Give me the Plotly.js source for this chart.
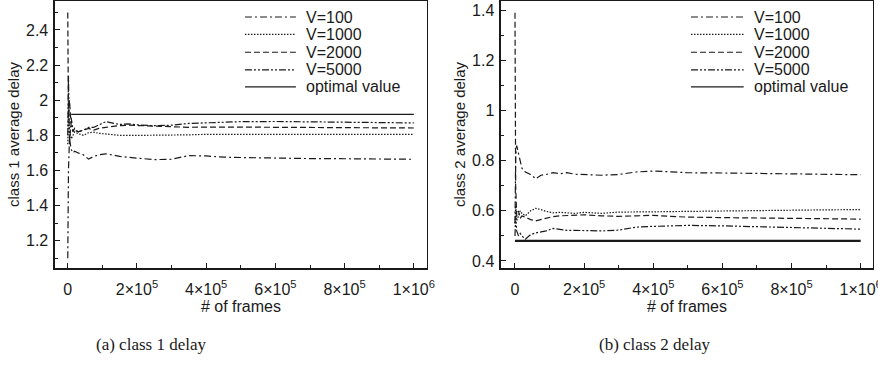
<!DOCTYPE html>
<html>
<head>
<meta charset="utf-8">
<script src="https://cdn.plot.ly/plotly-3.0.1.min.js"></script>
<style>html,body{margin:0;padding:0;background:#fff;}#chart{width:878px;height:367px;}</style>
</head>
<body>
<div id="chart"></div>
<script>
// ---- data ----
const frames = [0, 2000, 5000, 10000, 15000, 20000, 30000, 45000, 60000, 75000, 90000, 110000, 130000, 150000, 175000, 200000, 250000, 300000, 350000, 400000, 450000, 500000, 600000, 700000, 800000, 900000, 1000000];
const seriesNames = ["V=100", "V=1000", "V=2000", "V=5000", "optimal value"];

const class1_V100  = [1.1, 1.6, 1.78, 1.72, 1.70, 1.71, 1.70, 1.69, 1.665, 1.68, 1.69, 1.695, 1.688, 1.68, 1.675, 1.672, 1.662, 1.664, 1.685, 1.683, 1.676, 1.674, 1.670, 1.668, 1.667, 1.666, 1.664];
const class1_V1000 = [1.75, 1.95, 1.82, 1.78, 1.80, 1.82, 1.81, 1.80, 1.815, 1.818, 1.812, 1.806, 1.804, 1.800, 1.798, 1.800, 1.801, 1.800, 1.803, 1.806, 1.807, 1.807, 1.806, 1.806, 1.806, 1.806, 1.806];
const class1_V2000 = [2.5, 1.9, 2.0, 1.85, 1.82, 1.84, 1.82, 1.83, 1.84, 1.83, 1.84, 1.846, 1.852, 1.856, 1.858, 1.856, 1.850, 1.848, 1.846, 1.847, 1.848, 1.847, 1.846, 1.845, 1.844, 1.843, 1.842];
const class1_V5000 = [1.8, 2.14, 1.75, 1.9, 1.83, 1.83, 1.82, 1.83, 1.845, 1.845, 1.86, 1.878, 1.87, 1.862, 1.866, 1.86, 1.855, 1.858, 1.868, 1.872, 1.875, 1.878, 1.879, 1.878, 1.876, 1.873, 1.871];
const class1_optX = [10000, 1000000];
const class1_opt  = [1.92, 1.92];

const class2_V100  = [0.55, 0.82, 0.86, 0.83, 0.80, 0.77, 0.755, 0.745, 0.728, 0.742, 0.745, 0.752, 0.748, 0.752, 0.746, 0.744, 0.742, 0.745, 0.755, 0.759, 0.755, 0.752, 0.751, 0.749, 0.747, 0.745, 0.744];
const class2_V1000 = [0.55, 0.62, 0.56, 0.58, 0.60, 0.59, 0.58, 0.60, 0.61, 0.605, 0.598, 0.592, 0.594, 0.592, 0.590, 0.594, 0.590, 0.595, 0.594, 0.596, 0.597, 0.598, 0.600, 0.601, 0.603, 0.604, 0.605];
const class2_V2000 = [1.39, 0.70, 0.58, 0.60, 0.57, 0.58, 0.575, 0.565, 0.56, 0.565, 0.57, 0.577, 0.580, 0.582, 0.583, 0.584, 0.580, 0.578, 0.580, 0.582, 0.578, 0.575, 0.573, 0.571, 0.569, 0.568, 0.567];
const class2_V5000 = [0.50, 0.58, 0.52, 0.50, 0.51, 0.50, 0.487, 0.505, 0.512, 0.515, 0.52, 0.53, 0.525, 0.522, 0.522, 0.522, 0.52, 0.523, 0.535, 0.538, 0.54, 0.542, 0.54, 0.536, 0.532, 0.529, 0.527];
const class2_optX = [0, 1000000];
const class2_opt  = [0.48, 0.48];

const xTickVals = [0, 200000, 400000, 600000, 800000, 1000000];
const xTickText = ["0", "2×10<sup>5</sup>", "4×10<sup>5</sup>", "6×10<sup>5</sup>", "8×10<sup>5</sup>", "1×10<sup>6</sup>"];
const captions = ["(a) class 1 delay", "(b) class 2 delay"];
const yTitles = ["class 1 average delay", "class 2 average delay"];

// ---- styles ----
const dashes = ["7px,3px,2px,3px", "1.5px,1.5px", "6px,3px", "7px,2px,2px,2px,2px,2px", "solid"];
const ink = "#1a1a1a";
const font = "Liberation Sans, Arial, Helvetica, sans-serif";

function mk(x, y, i, xa, ya, w) {
  return {x: x, y: y, type: "scatter", mode: "lines", name: seriesNames[i],
    xaxis: xa, yaxis: ya, showlegend: false, hoverinfo: "skip",
    line: {color: ink, width: w || 1.2, dash: dashes[i]}};
}

const traces = [
  mk(frames, class1_V100, 0, "x", "y"),
  mk(frames, class1_V1000, 1, "x", "y"),
  mk(frames, class1_V2000, 2, "x", "y"),
  mk(frames, class1_V5000, 3, "x", "y"),
  mk(class1_optX, class1_opt, 4, "x", "y", 1.3),
  mk(frames, class2_V100, 0, "x2", "y2"),
  mk(frames, class2_V1000, 1, "x2", "y2"),
  mk(frames, class2_V2000, 2, "x2", "y2"),
  mk(frames, class2_V5000, 3, "x2", "y2"),
  mk(class2_optX, class2_opt, 4, "x2", "y2", 2.2)
];

function xaxis(domain, range, anchor) {
  return {domain: domain, range: range, anchor: anchor,
    tickmode: "array", tickvals: xTickVals, ticktext: xTickText,
    ticks: "inside", ticklen: 5, tickwidth: 1, tickcolor: ink,
    minor: {ticks: "inside", ticklen: 3, dtick: 100000, tick0: 0, tickcolor: ink, showgrid: false},
    showline: true, linecolor: ink, linewidth: 1.5, mirror: true,
    showgrid: false, zeroline: false, ticklabelstandoff: 6, ticklabeloverflow: "allow",
    tickfont: {family: font, size: 16, color: ink},
    title: {text: "# of frames", font: {family: font, size: 16, color: ink}, standoff: 3}};
}
function yaxis(range, dtick, tick0, anchor, title) {
  return {domain: [0, 1], range: range, anchor: anchor,
    dtick: dtick, tick0: tick0,
    ticks: "inside", ticklen: 5, tickwidth: 1, tickcolor: ink,
    minor: {ticks: "inside", ticklen: 3, dtick: dtick / 2, tick0: tick0, tickcolor: ink, showgrid: false},
    showline: true, linecolor: ink, linewidth: 1.5, mirror: true,
    showgrid: false, zeroline: false, ticklabelstandoff: 2,
    tickfont: {family: font, size: 16, color: ink},
    title: {text: title, font: {family: font, size: 15, color: ink}, standoff: 3}};
}

// legend built from series names and dash styles
const shapes = [], annotations = [];
const rowsY = [0.940, 0.875, 0.808, 0.742, 0.678];
const legendPos = [{x0: 0.279, x1: 0.337, tx: 0.346}, {x0: 0.787, x1: 0.847, tx: 0.856}];
legendPos.forEach(function (p) {
  seriesNames.forEach(function (nm, i) {
    shapes.push({type: "line", xref: "paper", yref: "paper", x0: p.x0, x1: p.x1, y0: rowsY[i], y1: rowsY[i],
      line: {color: ink, width: 1.2, dash: dashes[i]}});
    annotations.push({xref: "paper", yref: "paper", x: p.tx, y: rowsY[i], xanchor: "left", yanchor: "middle",
      text: nm, showarrow: false, font: {family: font, size: 16, color: ink}});
  });
});
const capX = [0.172, 0.746];
captions.forEach(function (c, i) {
  annotations.push({xref: "paper", yref: "paper", x: capX[i], y: -0.288, xanchor: "center", yanchor: "middle",
    text: c, showarrow: false, font: {family: "Liberation Serif, Times New Roman, serif", size: 17, color: ink}});
});

const layout = {
  width: 878, height: 367,
  margin: {l: 0, r: 0, t: 1, b: 99, pad: 0},
  paper_bgcolor: "#fff", plot_bgcolor: "#fff",
  showlegend: false,
  xaxis: xaxis([0.0626, 0.4863], [-37000, 1038000], "y"),
  yaxis: yaxis([1.045, 2.565], 0.2, 1.2, "x", yTitles[0]),
  xaxis2: xaxis([0.5706, 0.9943], [-40500, 1035600], "y2"),
  yaxis2: yaxis([0.372, 1.437], 0.2, 0.4, "x2", yTitles[1]),
  shapes: shapes,
  annotations: annotations
};

Plotly.newPlot("chart", traces, layout, {staticPlot: true, displayModeBar: false});
</script>
</body>
</html>
